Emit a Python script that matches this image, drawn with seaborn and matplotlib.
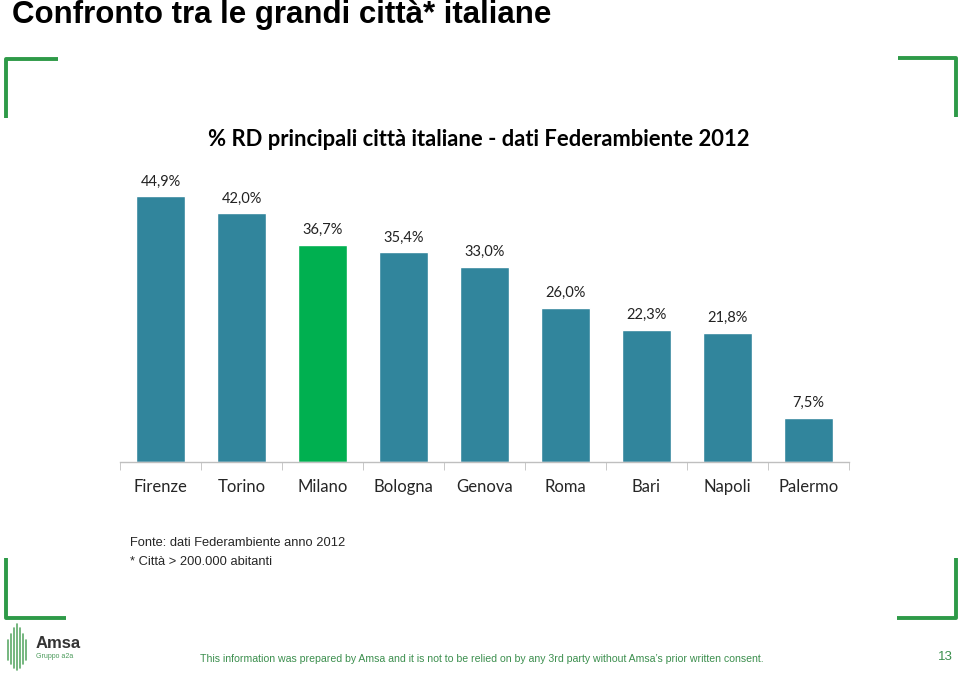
import matplotlib
matplotlib.use("Agg")
import matplotlib.pyplot as plt
import seaborn as sns
import pandas as pd

# dati
citta = ["Firenze", "Torino", "Milano", "Bologna", "Genova", "Roma", "Bari", "Napoli", "Palermo"]
rd = [44.9, 42.0, 36.7, 35.4, 33.0, 26.0, 22.3, 21.8, 7.5]
etichette = ["44,9%", "42,0%", "36,7%", "35,4%", "33,0%", "26,0%", "22,3%", "21,8%", "7,5%"]
evidenziata = "Milano"

TEAL = "#31859C"
VERDE = "#00B050"
VERDE_CORNICE = "#2E9A48"

sns.set_style("white")
plt.rcParams["font.family"] = ["Lato", "DejaVu Sans"]

df = pd.DataFrame({"citta": citta, "rd": rd})
palette = {c: (VERDE if c == evidenziata else TEAL) for c in citta}

W, H = 959, 674
fig = plt.figure(figsize=(W / 100, H / 100), dpi=100)

# area del grafico
x0, x1 = 120, 849
y_base, y_top = 462, 166
ax = fig.add_axes([x0 / W, 1 - y_base / H, (x1 - x0) / W, (y_base - y_top) / H])
sns.barplot(data=df, x="citta", y="rd", hue="citta", palette=palette,
            width=0.6, legend=False, ax=ax, saturation=1)
ax.set_ylim(0, 50)
ax.set_xlim(-0.5, len(citta) - 0.5)
ax.set_xlabel("")
ax.set_ylabel("")
ax.set_yticks([])
for s in ["top", "right", "left"]:
    ax.spines[s].set_visible(False)
ax.spines["bottom"].set_color("#BFBFBF")
ax.spines["bottom"].set_linewidth(1)
# tacche tra le categorie
ax.set_xticks([i - 0.5 for i in range(len(citta) + 1)], minor=True)
ax.tick_params(axis="x", which="minor", length=6, color="#BFBFBF", bottom=True)
ax.tick_params(axis="x", which="major", length=0, pad=12, labelsize=12)

for i, (v, t) in enumerate(zip(rd, etichette)):
    ax.text(i, v + 1.3, t, ha="center", va="bottom", fontsize=10.5, color="#222222")

# titoli
fig.text(12 / W, 1 - 15 / H, "Confronto tra le grandi città* italiane",
         family="Liberation Sans", fontweight="bold", fontsize=22.5,
         va="center", ha="left", color="black")
fig.text(479 / W, 1 - 139 / H, "% RD principali città italiane - dati Federambiente 2012",
         fontweight="bold", fontsize=15.8, ha="center", va="center", color="black")

# note
fig.text(130 / W, 1 - 543 / H, "Fonte: dati Federambiente anno 2012",
         family="Liberation Sans", fontsize=9.3, va="center", ha="left")
fig.text(130 / W, 1 - 562 / H, "* Città > 200.000 abitanti",
         family="Liberation Sans", fontsize=9.3, va="center", ha="left")

# cornici verdi agli angoli
def linea(xs, ys):
    fig.add_artist(plt.Line2D([x / W for x in xs], [1 - y / H for y in ys],
                              color=VERDE_CORNICE, lw=2.8, solid_capstyle="butt"))

linea([6, 6, 58], [118, 59, 59])
linea([898, 956, 956], [58, 58, 117])
linea([6, 6, 66], [558, 618, 618])
linea([897, 956, 956], [618, 618, 558])

# logo Amsa
for xl, y_a, y_b in [(8, 640, 660), (11, 634, 664), (14, 628, 668),
                     (17, 624, 670), (20, 628, 668), (23, 634, 664),
                     (26, 640, 660)]:
    fig.add_artist(plt.Line2D([xl / W, xl / W], [1 - y_a / H, 1 - y_b / H],
                              color="#5DAA6A", lw=1.2))
fig.text(36 / W, 1 - 643 / H, "Amsa", family="Liberation Sans", fontweight="bold",
         fontsize=12, color="#333333", va="center", ha="left")
fig.text(36 / W, 1 - 657 / H, "Gruppo a2a", family="Liberation Sans",
         fontsize=5, color="#4A9A5A", va="center", ha="left")

# piè di pagina
fig.text(482 / W, 1 - 659 / H,
         "This information was prepared by Amsa and it is not to be relied on by any 3rd party without Amsa\u2019s prior written consent.",
         family="Liberation Sans", fontsize=7.6, color="#3C8F4E", ha="center", va="center")
fig.text(945 / W, 1 - 657 / H, "13", family="Liberation Sans", fontsize=9.5,
         color="#3C8F4E", ha="center", va="center")

fig.savefig("out.png", dpi=100)
